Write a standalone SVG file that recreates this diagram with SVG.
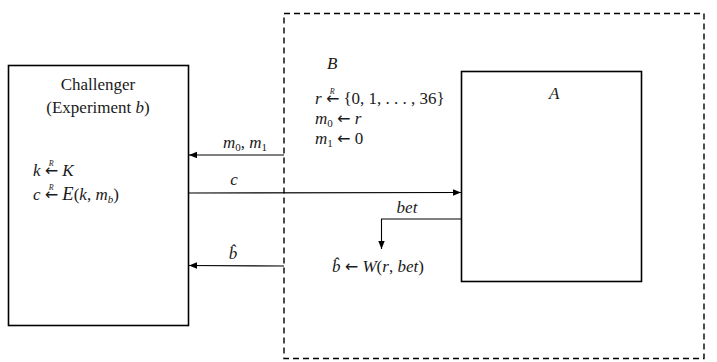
<svg xmlns="http://www.w3.org/2000/svg" width="717" height="362" viewBox="0 0 717 362">
<style>
text{font-family:"Liberation Serif",serif;font-size:17px;fill:#1a1a1a}
.i{font-style:italic}
.ar{font-family:"DejaVu Sans",sans-serif;font-size:16px}
.box{fill:#fff;stroke:#000;stroke-width:1.6}
.dash{fill:none;stroke:#000;stroke-width:1.4;stroke-dasharray:6,4}
.ln{fill:none;stroke:#000;stroke-width:1.1}
.sm{font-size:8px;font-style:italic}
.sub{font-size:11px}
</style>
<defs>
<marker id="ah" viewBox="0 0 10 10" refX="10" refY="5" markerWidth="8" markerHeight="8" markerUnits="userSpaceOnUse" orient="auto">
<path d="M0,1 L10,5 L0,9 Z" fill="#000"/>
</marker>
</defs>
<g id="adversaryB">
<rect class="dash" x="284" y="13.5" width="420" height="345"/>
<text class="i" x="327" y="69">B</text>
<text x="315" y="104"><tspan class="i">r</tspan> <tspan class="ar">←</tspan><tspan class="sm" dx="-9.5" dy="-10.5">R</tspan><tspan dx="4.5" dy="10.5"> {0, 1, . . . , 36}</tspan></text>
<text x="315" y="124"><tspan class="i">m</tspan><tspan class="sub" dy="3">0</tspan><tspan dy="-3"> </tspan><tspan class="ar">←</tspan> <tspan class="i">r</tspan></text>
<text x="315" y="144"><tspan class="i">m</tspan><tspan class="sub" dy="3">1</tspan><tspan dy="-3"> </tspan><tspan class="ar">←</tspan> 0</text>
<text x="332" y="272"><tspan class="i">b̂</tspan> <tspan class="ar">←</tspan> <tspan class="i">W</tspan>(<tspan class="i">r</tspan>, <tspan class="i">bet</tspan>)</text>
</g>
<g id="challenger">
<rect class="box" x="8.5" y="65.5" width="180" height="260"/>
<text x="98" y="90" text-anchor="middle">Challenger</text>
<text x="98" y="113" text-anchor="middle">(Experiment <tspan class="i">b</tspan>)</text>
<text x="33" y="176"><tspan class="i">k</tspan> <tspan class="ar">←</tspan><tspan class="sm" dx="-9.5" dy="-10.5">R</tspan><tspan dx="4.5" dy="10.5"> </tspan><tspan class="i">K</tspan></text>
<text x="33" y="200"><tspan class="i">c</tspan> <tspan class="ar">←</tspan><tspan class="sm" dx="-9.5" dy="-10.5">R</tspan><tspan dx="4.5" dy="10.5"> </tspan><tspan class="i" style="font-size:18.5px">E</tspan>(<tspan class="i">k</tspan>, <tspan class="i">m</tspan><tspan class="sub i" dy="3">b</tspan><tspan dy="-3">)</tspan></text>
</g>
<g id="adversaryA">
<rect class="box" x="461.5" y="71.5" width="180" height="210"/>
<text class="i" x="549" y="99">A</text>
</g>
<g id="connectors">
<line class="ln" x1="284" y1="155" x2="189" y2="155" marker-end="url(#ah)"/>
<text x="245" y="148" text-anchor="middle"><tspan class="i">m</tspan><tspan class="sub" dy="3">0</tspan><tspan dy="-3">, </tspan><tspan class="i">m</tspan><tspan class="sub" dy="3">1</tspan></text>
<line class="ln" x1="189" y1="193" x2="461" y2="192.5" marker-end="url(#ah)"/>
<text class="i" x="234" y="185" text-anchor="middle">c</text>
<polyline class="ln" points="461,219 381.5,219 381.5,249" marker-end="url(#ah)"/>
<text class="i" x="407" y="213" text-anchor="middle">bet</text>
<line class="ln" x1="284" y1="266" x2="189" y2="265.5" marker-end="url(#ah)"/>
<text class="i" x="233" y="259" text-anchor="middle">b̂</text>
</g>
</svg>
